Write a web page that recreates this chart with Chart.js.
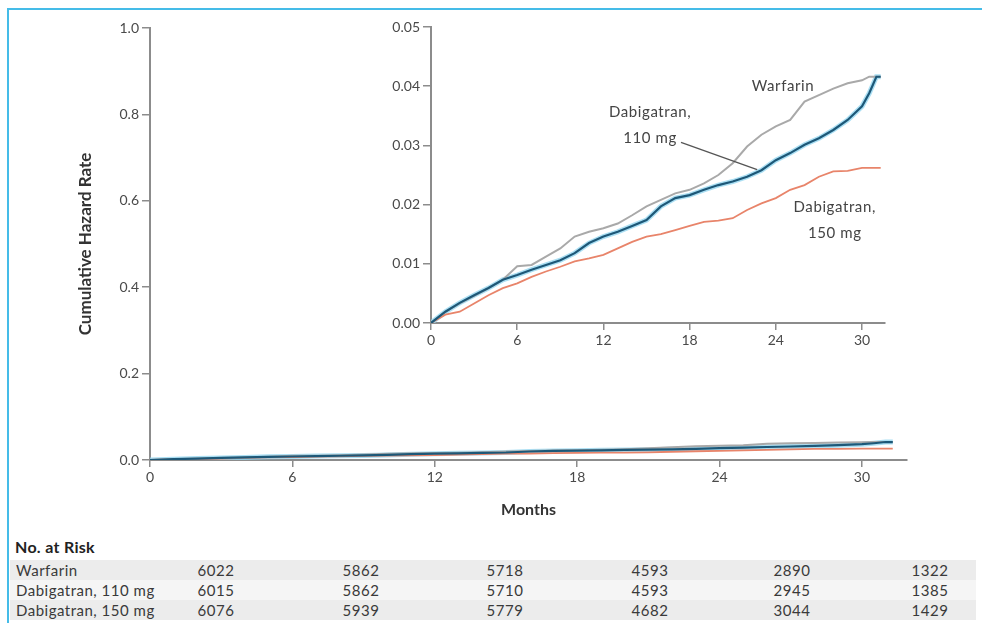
<!DOCTYPE html>
<html><head><meta charset="utf-8">
<script src="https://cdn.jsdelivr.net/npm/chart.js@4.4.1/dist/chart.umd.min.js"></script>
<style>
html,body{margin:0;padding:0;background:#fff;}
#wrap{position:relative;width:982px;height:623px;overflow:hidden;font-family:Lato,"Open Sans",sans-serif;background:#fff;}
#frameTop{position:absolute;left:7px;top:8px;width:975px;height:2px;background:#45bce8;}
#frameLeft{position:absolute;left:7px;top:8px;width:2px;height:615px;background:#45bce8;}
#mainC{position:absolute;left:0;top:0;}
#insetC{position:absolute;left:340px;top:10px;}
#riskTitle{position:absolute;left:15px;top:537px;font-size:16px;font-weight:bold;color:#222;letter-spacing:0.3px;}
.row{position:absolute;left:10px;width:966px;height:20px;font-size:15px;color:#3a3a3a;line-height:20px;letter-spacing:0.5px;}
.row span{position:absolute;top:0;}
.row .lbl{left:6px;}
.row .num{transform:translateX(-50%);}
</style></head>
<body><div id="wrap">
<div id="frameTop"></div><div id="frameLeft"></div>
<canvas id="mainC" width="982" height="530"></canvas>
<canvas id="insetC" width="560" height="350"></canvas>
<div id="riskTitle">No. at Risk</div>
<div id="riskRows"></div>
</div>
<script>
// ---- data ----
const months   = [0,1,2,3,4,5,6,7,8,9,10,11,12,13,14,15,16,17,18,19,20,21,22,23,24,25,26,27,28,29,30,30.5,31,31.3];
const warfarin = [0,.0019,.0033,.0046,.0059,.0073,.0096,.0098,.0112,.0126,.0146,.0154,.0160,.0168,.0182,.0197,.0208,.0219,.0225,.0236,.0250,.0270,.0298,.0318,.0332,.0343,.0374,.0385,.0396,.0405,.0410,.0416,.0416,.0416];
const dabi110  = [0,.0019,.0034,.0047,.0059,.0073,.0081,.0090,.0098,.0106,.0118,.0135,.0146,.0154,.0164,.0174,.0197,.0211,.0216,.0225,.0233,.0239,.0247,.0258,.0275,.0287,.0301,.0312,.0326,.0343,.0366,.0388,.0416,.0416];
const dabi150  = [0,.0014,.0019,.0033,.0047,.0059,.0067,.0078,.0087,.0095,.0104,.0109,.0115,.0126,.0137,.0146,.0150,.0157,.0164,.0171,.0173,.0177,.0191,.0202,.0211,.0225,.0233,.0247,.0256,.0257,.0262,.0262,.0262,.0262];
const monthTicks = [0,6,12,18,24,30];
const mainYTicks = [0,0.2,0.4,0.6,0.8,1.0];
const insetYTicks = [0,0.01,0.02,0.03,0.04,0.05];
const riskGroups = ['Warfarin','Dabigatran, 110 mg','Dabigatran, 150 mg'];
const riskWarfarin = [6022,5862,5718,4593,2890,1322];
const riskDabi110  = [6015,5862,5710,4593,2945,1385];
const riskDabi150  = [6076,5939,5779,4682,3044,1429];

// ---- styling ----
const FONT = 'Lato, "Open Sans", sans-serif';
const AXIS = '#8c8c8c';
const pts = arr => months.map((m,i)=>({x:m,y:arr[i]}));
function datasets(){
  return [
    {data:pts(dabi110), borderColor:'#1d5878', borderWidth:2.2, order:1},
    {data:pts(warfarin), borderColor:'#a9a9a9', borderWidth:2, order:2},
    {data:pts(dabi150), borderColor:'#e8846a', borderWidth:1.8, order:3},
    {data:pts(dabi110), borderColor:'rgba(150,215,240,0.8)', borderWidth:5, order:4}
  ].map(d=>Object.assign(d,{pointRadius:0,fill:false,tension:0}));
}
function axisX(max, tickLen, h){
  return {type:'linear',min:0,max:max,
    afterBuildTicks:s=>{s.ticks=monthTicks.map(v=>({value:v}));},
    afterFit:s=>{s.height=h;},
    grid:{drawOnChartArea:false,drawTicks:true,tickLength:tickLen,color:AXIS,lineWidth:1.5},
    border:{color:AXIS,width:2},
    ticks:{color:'#4a4a4a',font:{family:FONT,size:14},padding:2,maxRotation:0}};
}
function axisY(ticks, max, dec, w, tickLen){
  return {type:'linear',min:0,max:max,
    afterBuildTicks:s=>{s.ticks=ticks.map(v=>({value:v}));},
    afterFit:s=>{s.width=w;},
    grid:{drawOnChartArea:false,drawTicks:true,tickLength:tickLen,color:AXIS,lineWidth:1.5},
    border:{color:AXIS,width:2},
    ticks:{color:'#4a4a4a',font:{family:FONT,size:14},padding:3,callback:v=>Number(v).toFixed(dec)}};
}

// main chart
const mx = axisX(31.9, 7, 70);
mx.title = {display:true,text:'Months',color:'#333',font:{family:FONT,size:16,weight:'bold'},padding:{top:0,bottom:11}};
const my = axisY(mainYTicks, 1.0, 1, 150, 8);
my.title = {display:true,text:'Cumulative Hazard Rate',color:'#333',font:{family:FONT,size:17,weight:'bold'},padding:{top:75,bottom:0}};
new Chart(document.getElementById('mainC'),{
  type:'line',data:{datasets:datasets()},
  options:{responsive:false,animation:false,devicePixelRatio:1,
    layout:{padding:{left:0,top:28,right:75,bottom:0}},
    plugins:{legend:{display:false},tooltip:{enabled:false}},
    scales:{x:mx,y:my}}
});

// inset chart with annotations
const insetNotes = [
  {lines:['Warfarin'], x:24.5, y:0.0400},
  {lines:['Dabigatran,','110 mg'], x:15.25, y:0.0356},
  {lines:['Dabigatran,','150 mg'], x:28.1, y:0.0196}
];
const pointer = {from:{x:17.4,y:0.0305}, to:{x:22.7,y:0.0259}};
const notePlugin = {id:'notes',afterDatasetsDraw(chart){
  const {ctx,scales:{x,y}} = chart;
  ctx.save();
  ctx.strokeStyle='#555';ctx.lineWidth=1.3;
  ctx.beginPath();
  ctx.moveTo(x.getPixelForValue(pointer.from.x),y.getPixelForValue(pointer.from.y));
  ctx.lineTo(x.getPixelForValue(pointer.to.x),y.getPixelForValue(pointer.to.y));
  ctx.stroke();
  ctx.fillStyle='#444';ctx.font='15px '+FONT;ctx.textAlign='center';ctx.textBaseline='middle';
  if ('letterSpacing' in ctx) ctx.letterSpacing='0.6px';
  insetNotes.forEach(n=>{
    const px=x.getPixelForValue(n.x), py=y.getPixelForValue(n.y);
    n.lines.forEach((t,i)=>ctx.fillText(t,px,py+i*26));
  });
  ctx.restore();
}};
new Chart(document.getElementById('insetC'),{
  type:'line',data:{datasets:datasets()},
  options:{responsive:false,animation:false,devicePixelRatio:1,
    layout:{padding:{left:0,top:17,right:15,bottom:0}},
    plugins:{legend:{display:false},tooltip:{enabled:false}},
    scales:{x:axisX(31.6,7,37),y:axisY(insetYTicks,0.05,2,91,8)}},
  plugins:[notePlugin]
});

// number-at-risk table
const riskRows = [riskWarfarin, riskDabi110, riskDabi150];
const colCenters = [206,351,495,640,782,920];
const rowTops = [560,580,600];
const rowBg = ['#ececec','#f5f5f5','#ececec'];
const holder = document.getElementById('riskRows');
riskGroups.forEach((g,r)=>{
  const div=document.createElement('div');
  div.className='row';div.style.top=rowTops[r]+'px';div.style.background=rowBg[r];
  let html='<span class="lbl">'+g+'</span>';
  riskRows[r].forEach((v,c)=>{html+='<span class="num" style="left:'+colCenters[c]+'px">'+v+'</span>';});
  div.innerHTML=html;holder.appendChild(div);
});
</script>
</body></html>
